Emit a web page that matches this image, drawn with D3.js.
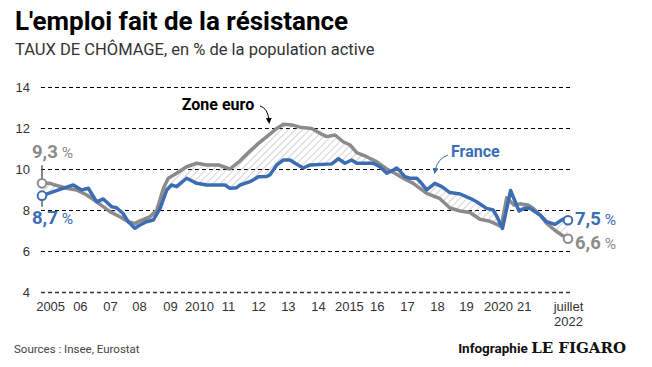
<!DOCTYPE html>
<html>
<head>
<meta charset="utf-8">
<style>
  body { margin: 0; background: #fff; }
  svg { font-family: Roboto, 'Noto Sans', sans-serif; }
  .y .domain, .x .domain { display: none; }
  .y .tick line { stroke: #000; stroke-dasharray: 4 3; }
  .y .tick text, .x .tick text { font-size: 13px; fill: #333; }
</style>
</head>
<body>
<svg width="652" height="367"></svg>
<script src="https://d3js.org/d3.v7.min.js"></script>
<script>
// taux de chomage, [annee, %]
const france = [
  [2005.00, 8.70], [2005.27, 8.84], [2005.60, 9.01], [2006.04, 9.22], [2006.32, 8.98],
  [2006.54, 9.06], [2006.82, 8.40], [2007.04, 8.54], [2007.32, 8.16], [2007.48, 8.11],
  [2007.69, 7.84], [2007.87, 7.43], [2008.09, 7.11], [2008.26, 7.27], [2008.48, 7.43],
  [2008.70, 7.51], [2008.93, 8.08], [2009.15, 8.98], [2009.31, 9.22], [2009.48, 9.14],
  [2009.81, 9.55], [2010.15, 9.30], [2010.48, 9.22], [2011.09, 9.22], [2011.25, 9.06],
  [2011.48, 9.09], [2011.59, 9.22], [2011.92, 9.38], [2012.20, 9.62], [2012.48, 9.64],
  [2012.58, 9.71], [2012.81, 10.20], [2013.03, 10.44], [2013.25, 10.44], [2013.42, 10.28],
  [2013.69, 10.05], [2013.92, 10.20], [2014.64, 10.25], [2014.86, 10.50], [2015.08, 10.28],
  [2015.30, 10.44], [2015.47, 10.28], [2016.02, 10.28], [2016.24, 10.11], [2016.47, 9.79],
  [2016.69, 9.95], [2016.80, 10.05], [2016.91, 9.90], [2017.08, 9.62], [2017.24, 9.55],
  [2017.47, 9.55], [2017.58, 9.38], [2017.80, 8.98], [2018.07, 9.30], [2018.30, 9.14],
  [2018.57, 8.85], [2018.91, 8.78], [2019.24, 8.57], [2019.46, 8.40], [2019.79, 8.08],
  [2020.01, 8.00], [2020.13, 7.70], [2020.32, 7.10], [2020.59, 8.95], [2020.87, 7.95],
  [2021.07, 8.10], [2021.23, 8.08], [2021.57, 7.76], [2021.79, 7.43], [2022.07, 7.30],
  [2022.29, 7.51], [2022.38, 7.58], [2022.50, 7.50]
];
const zoneEuro = [
  [2005.00, 9.30], [2005.27, 9.30], [2005.43, 9.22], [2005.82, 9.06], [2006.15, 8.98],
  [2006.49, 8.73], [2006.82, 8.40], [2007.26, 7.92], [2007.59, 7.67], [2007.87, 7.43],
  [2008.09, 7.35], [2008.32, 7.51], [2008.59, 7.67], [2008.82, 8.00], [2009.04, 9.06],
  [2009.20, 9.55], [2009.48, 9.79], [2009.81, 10.11], [2010.15, 10.28], [2010.48, 10.20],
  [2010.87, 10.20], [2011.25, 10.00], [2011.59, 10.40], [2011.92, 10.88], [2012.20, 11.25],
  [2012.48, 11.58], [2012.81, 11.98], [2013.03, 12.18], [2013.31, 12.15], [2013.58, 12.04],
  [2013.97, 11.98], [2014.25, 11.74], [2014.47, 11.58], [2014.75, 11.66], [2015.02, 11.33],
  [2015.25, 11.17], [2015.47, 10.80], [2015.80, 10.60], [2016.13, 10.36], [2016.47, 10.00],
  [2016.74, 9.79], [2017.02, 9.55], [2017.35, 9.30], [2017.80, 8.81], [2018.24, 8.55],
  [2018.57, 8.10], [2018.91, 7.95], [2019.24, 7.88], [2019.57, 7.55], [2019.90, 7.45],
  [2020.06, 7.35], [2020.23, 7.22], [2020.28, 7.20], [2020.46, 8.60], [2020.70, 8.24],
  [2020.90, 8.30], [2021.17, 8.24], [2021.33, 8.10], [2021.57, 7.76], [2021.79, 7.35],
  [2022.07, 7.00], [2022.29, 6.78], [2022.50, 6.60]
];

const yTicks = [4, 6, 8, 10, 12, 14];
const xTickLabels = ["2005", "06", "07", "08", "09", "2010", "11", "12", "13", "14",
  "2015", "16", "17", "18", "19", "2020", "21", "juillet|2022"];
const xTickAt = [2005.27, 2006.26, 2007.26, 2008.23, 2009.26, 2010.22, 2011.19, 2012.19,
  2013.18, 2014.18, 2015.21, 2016.14, 2017.14, 2018.14, 2019.11, 2020.17, 2021.03, 2022.5];

const blue = "#3c6db3";
const grey = "#8b8b8b";

let svg = d3.select("svg");

let x = d3.scaleLinear().domain([2005, 2022.5]).range([42, 568]);
let y = d3.scaleLinear().domain([4, 14]).range([292, 87]);

// titre
svg.append("text")
  .attr("x", 15).attr("y", 30)
  .style("font-size", "26px").style("font-weight", "bold").style("fill", "#000")
  .text("L'emploi fait de la résistance");
svg.append("text")
  .attr("x", 15).attr("y", 55)
  .style("font-size", "16.5px").style("fill", "#333")
  .text("TAUX DE CHÔMAGE, en % de la population active");

// grille
let yAxis = svg.append("g")
  .attr("class", "y axis")
  .attr("transform", "translate(570,0)")
  .call(d3.axisLeft(y).tickValues(yTicks).tickSize(530).tickPadding(10));
yAxis.selectAll(".tick")
  .filter(d => d == 4)
  .select("line")
  .style("stroke-dasharray", null)
  .style("stroke", "#333")
  .style("stroke-width", 1.5);

let xAxis = svg.append("g")
  .attr("class", "x axis")
  .attr("transform", "translate(0,292)")
  .call(d3.axisBottom(x).tickValues(xTickAt).tickSize(0).tickPadding(10)
    .tickFormat((d, i) => xTickLabels[i]));
xAxis.selectAll(".tick text").each(function (d, i) {
  let parts = xTickLabels[i].split("|");
  if (parts.length > 1) {
    let t = d3.select(this).text(null);
    parts.forEach((p, j) => t.append("tspan").attr("x", 0).attr("dy", j == 0 ? "0.71em" : "1.15em").text(p));
  }
});

// hachures
let defs = svg.append("defs");
defs.append("pattern")
  .attr("id", "hatch")
  .attr("patternUnits", "userSpaceOnUse")
  .attr("width", 5).attr("height", 5)
  .attr("patternTransform", "rotate(45)")
  .append("line")
  .attr("x1", 0).attr("y1", 0).attr("x2", 0).attr("y2", 5)
  .style("stroke", "#a0a0a0").style("stroke-width", 0.9);

let line = d3.line().x(d => x(d[0])).y(d => y(d[1]));

svg.append("path")
  .attr("d", line(france.concat(zoneEuro.slice().reverse())) + "Z")
  .style("fill", "url(#hatch)")
  .style("fill-rule", "evenodd")
  .style("stroke", "none");

svg.append("path")
  .attr("d", line(zoneEuro))
  .style("fill", "none").style("stroke", grey).style("stroke-width", 3.5)
  .style("stroke-linejoin", "round");
svg.append("path")
  .attr("d", line(france))
  .style("fill", "none").style("stroke", blue).style("stroke-width", 3.5)
  .style("stroke-linejoin", "round");

// traits des etiquettes de depart
let first = [zoneEuro[0], france[0]];
svg.append("line")
  .attr("x1", x(first[0][0])).attr("x2", x(first[0][0]))
  .attr("y1", y(first[0][1]) - 18).attr("y2", y(first[0][1]) - 4)
  .style("stroke", "#444").style("stroke-width", 1.3);
svg.append("line")
  .attr("x1", x(first[1][0])).attr("x2", x(first[1][0]))
  .attr("y1", y(first[1][1]) + 4).attr("y2", y(first[1][1]) + 11)
  .style("stroke", "#444").style("stroke-width", 1.3);

// cercles
let ends = [
  { p: zoneEuro[0], c: grey }, { p: france[0], c: blue },
  { p: zoneEuro[zoneEuro.length - 1], c: grey }, { p: france[france.length - 1], c: blue }
];
svg.append("g").selectAll("circle")
  .data(ends)
  .join("circle")
  .attr("cx", d => x(d.p[0]))
  .attr("cy", d => y(d.p[1]))
  .attr("r", 4.3)
  .style("fill", "#fff")
  .style("stroke", d => d.c)
  .style("stroke-width", 2);

// etiquettes de valeurs
function valueLabel(px, py, val, color) {
  let t = svg.append("text").attr("x", px).attr("y", py).style("fill", color);
  t.append("tspan").style("font-size", "18.5px").style("font-weight", "bold")
    .text(d3.format(".1f")(val).replace(".", ","));
  t.append("tspan").style("font-size", "15.5px").text(" %");
}
valueLabel(x(2005) - 10, y(first[0][1]) - 25, first[0][1], grey);
valueLabel(x(2005) - 10, y(first[1][1]) + 28, first[1][1], blue);
let lastF = france[france.length - 1], lastE = zoneEuro[zoneEuro.length - 1];
valueLabel(x(lastF[0]) + 7, y(lastF[1]) + 5, lastF[1], blue);
valueLabel(x(lastE[0]) + 7, y(lastE[1]) + 10, lastE[1], grey);

// Zone euro
svg.append("text")
  .attr("x", 218).attr("y", 110)
  .attr("text-anchor", "middle")
  .style("font-size", "16px").style("font-weight", "bold").style("fill", "#000")
  .text("Zone euro");
defs.append("marker")
  .attr("id", "arrowK").attr("viewBox", "0 0 10 10")
  .attr("refX", 5).attr("refY", 5)
  .attr("markerWidth", 6).attr("markerHeight", 6)
  .attr("orient", "auto-start-reverse")
  .append("path").attr("d", "M0,0L10,5L0,10Z").style("fill", "#000");
defs.append("marker")
  .attr("id", "arrowB").attr("viewBox", "0 0 10 10")
  .attr("refX", 5).attr("refY", 5)
  .attr("markerWidth", 6).attr("markerHeight", 6)
  .attr("orient", "auto-start-reverse")
  .append("path").attr("d", "M0,0L10,5L0,10Z").style("fill", blue);

svg.append("path")
  .attr("d", "M260,106 Q268,108 269,121")
  .style("fill", "none").style("stroke", "#000").style("stroke-width", 1)
  .attr("marker-end", "url(#arrowK)");

svg.append("text")
  .attr("x", 451).attr("y", 157)
  .style("font-size", "16px").style("font-weight", "bold").style("fill", blue)
  .text("France");
svg.append("path")
  .attr("d", "M448,155 Q437,159 435,171")
  .style("fill", "none").style("stroke", blue).style("stroke-width", 1)
  .attr("marker-end", "url(#arrowB)");

// pied
svg.append("text")
  .attr("x", 14).attr("y", 353)
  .style("font-size", "11.5px").style("fill", "#444")
  .text("Sources : Insee, Eurostat");
let credit = svg.append("text")
  .attr("x", 626).attr("y", 353)
  .attr("text-anchor", "end")
  .style("fill", "#111");
credit.append("tspan").style("font-size", "13.5px").style("font-weight", "bold").text("Infographie ");
credit.append("tspan")
  .style("font-family", "'DejaVu Serif', 'Liberation Serif', serif")
  .style("font-size", "15px").style("font-weight", "900")
  .text("LE FIGARO");
</script>
</body>
</html>
